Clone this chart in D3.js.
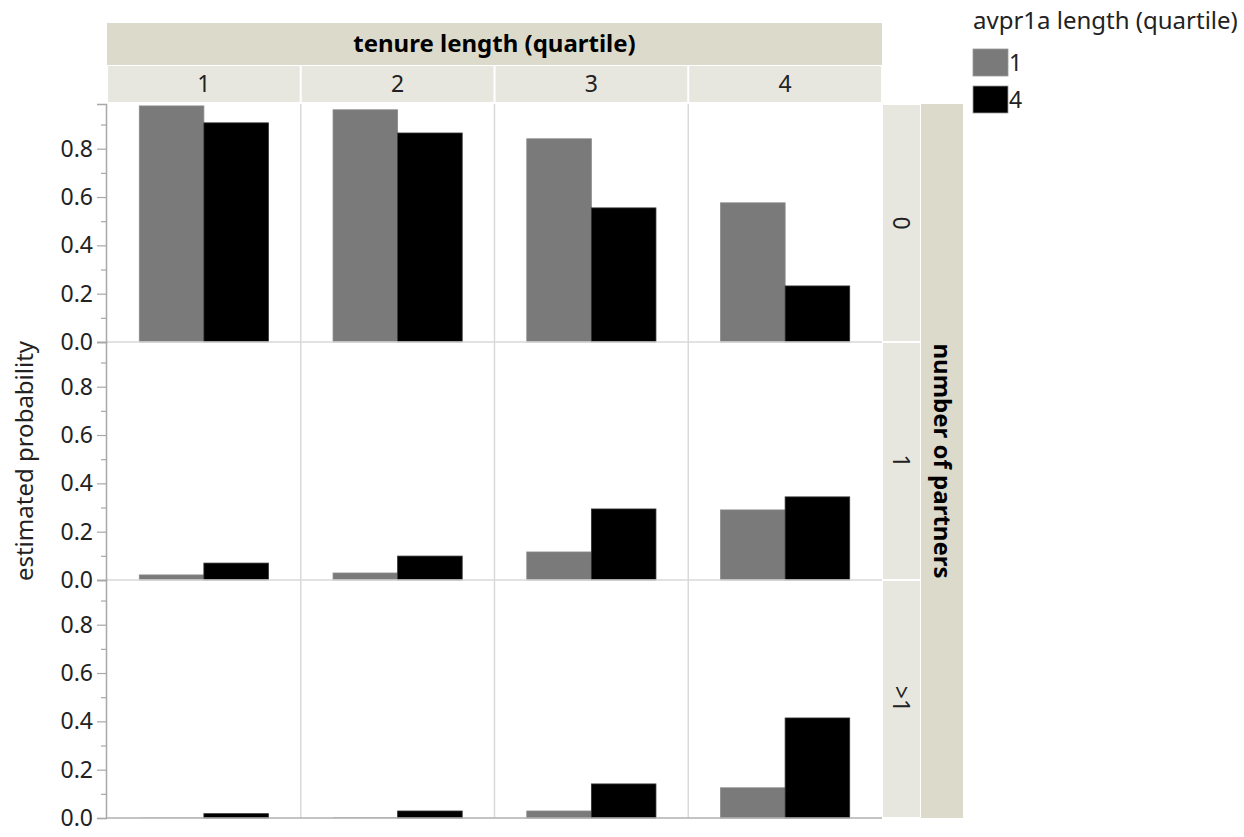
<!DOCTYPE html>
<html><head><meta charset="utf-8">
<script src="https://cdn.jsdelivr.net/npm/d3@7"></script>
<style>body{margin:0;background:#fff;} text{font-family:"Noto Sans",sans-serif;}</style>
</head><body><svg id="c" width="1244" height="837"></svg>
<script>
const tenure = ["1","2","3","4"];
const partners = ["0","1",">1"];
const avpr = ["1","4"];
// values[partnerRow][tenureCol] = [avpr1 gray, avpr4 black]
const row0 = [[0.977,0.907],[0.961,0.865],[0.841,0.555],[0.576,0.232]];
const row1 = [[0.021,0.070],[0.029,0.099],[0.116,0.294],[0.290,0.344]];
const row2 = [[0.001,0.018],[0.002,0.029],[0.029,0.141],[0.125,0.414]];
const values = [row0,row1,row2];
const yTicks = [0,0.2,0.4,0.6,0.8];
const yMinor = [0.1,0.3,0.5,0.7,0.9];
const colors = ["#7a7a7a","#000000"];

const svg = d3.select("#c");
const L=107, R=882, T=104, B=818;
const fx = d3.scaleBand().domain(tenure).range([L,R]);
const fy = d3.scaleBand().domain(partners).range([T,B]);
const xi = d3.scaleBand().domain(avpr).range([0,fx.bandwidth()]).paddingInner(0).paddingOuter(0.5);
const color = d3.scaleOrdinal().domain(avpr).range(colors);

// headers
const outerC="#dcdacb", innerC="#e8e7df";
svg.append("rect").attr("x",L).attr("y",23).attr("width",R-L).attr("height",42).attr("fill",outerC);
svg.append("text").attr("x",(L+R)/2).attr("y",52).attr("text-anchor","middle").attr("font-weight","bold").attr("font-size",24).attr("fill","#000").text("tenure length (quartile)");
tenure.forEach(t=>{
  svg.append("rect").attr("x",fx(t)+1).attr("y",66).attr("width",fx.bandwidth()-2).attr("height",36).attr("fill",innerC);
  svg.append("text").attr("x",fx(t)+fx.bandwidth()/2).attr("y",92).attr("text-anchor","middle").attr("font-size",23).attr("fill","#222").text(t);
});
svg.append("rect").attr("x",921).attr("y",T).attr("width",42).attr("height",B-T).attr("fill",outerC);
partners.forEach(p=>{
  svg.append("rect").attr("x",883).attr("y",fy(p)+1).attr("width",37).attr("height",fy.bandwidth()-2).attr("fill",innerC);
  const cx=901, cy=fy(p)+fy.bandwidth()/2;
  svg.append("text").attr("transform",`translate(${cx},${cy}) rotate(90)`).attr("text-anchor","middle").attr("dy","0.35em").attr("font-size",23).attr("fill","#222").text(p);
});
svg.append("text").attr("transform",`translate(942,${(T+B)/2}) rotate(90)`).attr("text-anchor","middle").attr("dy","0.35em").attr("font-weight","bold").attr("font-size",24).attr("fill","#000").text("number of partners");

// panels
partners.forEach((p,ri)=>{
  const y = d3.scaleLinear().domain([0,0.985]).range([fy(p)+fy.bandwidth(), fy(p)]);
  const g = svg.append("g");
  tenure.forEach((t,ci)=>{
    if(ci>0) g.append("line").attr("x1",fx(t)).attr("x2",fx(t)).attr("y1",fy(p)).attr("y2",fy(p)+fy.bandwidth()).attr("stroke","#d9d9d9").attr("stroke-width",1.5);
    avpr.forEach((a,ai)=>{
      const v = values[ri][ci][ai];
      const h = y(0)-y(v);
      g.append("rect").attr("x",fx(t)+xi(a)).attr("y",y(v)).attr("width",xi.bandwidth()).attr("height",h)
       .attr("fill",color(a)).attr("stroke",ai===0?"#8a8a8a":"#333").attr("stroke-width",h<1?0:0.8);
    });
  });
  g.append("line").attr("x1",L).attr("x2",R).attr("y1",y(0)).attr("y2",y(0)).attr("stroke",ri===2?"#b0b0b0":"#d9d9d9").attr("stroke-width",1.5);
  const ax = svg.append("g").attr("transform",`translate(${L-1},0)`)
    .call(d3.axisLeft(y).tickValues(yTicks).tickFormat(d3.format(".1f")).tickSize(9).tickPadding(4));
  ax.select(".domain").attr("stroke","#a8a8a8").attr("stroke-width",1.5);
  ax.selectAll(".tick line").attr("stroke","#a8a8a8").attr("stroke-width",1.2);
  ax.selectAll(".tick text").attr("font-size",23).attr("fill","#222").attr("font-family","Noto Sans");
  const mi = svg.append("g").attr("transform",`translate(${L-1},0)`)
    .call(d3.axisLeft(y).tickValues(yMinor).tickFormat("").tickSize(5));
  mi.select(".domain").remove();
  mi.selectAll(".tick line").attr("stroke","#a8a8a8").attr("stroke-width",1.2);
});

// y title
svg.append("text").attr("transform",`translate(25,${(T+B)/2}) rotate(-90)`).attr("text-anchor","middle").attr("dy","0.35em").attr("font-size",24).attr("fill","#222").text("estimated probability");

// legend
svg.append("text").attr("x",973).attr("y",29).attr("font-size",24).attr("fill","#222").text("avpr1a length (quartile)");
avpr.forEach((a,i)=>{
  const yy = 49+i*37;
  svg.append("rect").attr("x",973).attr("y",yy).attr("width",35).attr("height",27).attr("fill",color(a)).attr("stroke","#999").attr("stroke-width",0.8);
  svg.append("text").attr("x",1009).attr("y",yy+22).attr("font-size",23).attr("fill","#222").text(a);
});
</script></body></html>
